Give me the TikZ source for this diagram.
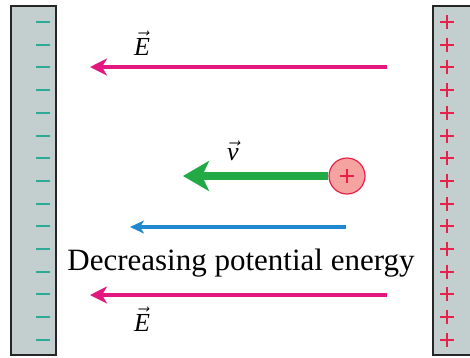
\RequirePackage{fix-cm}
\documentclass[tikz,border=0pt]{standalone}
\usepackage{fontspec}
\setmainfont{Liberation Serif}
\usepackage{amsmath}
\usetikzlibrary{arrows.meta}
\definecolor{platefill}{HTML}{C3CFCF}
\definecolor{fieldpink}{HTML}{E3177F}
\definecolor{minusteal}{HTML}{2BAA98}
\definecolor{plusred}{HTML}{E8204A}
\definecolor{velgreen}{HTML}{22AA47}
\definecolor{energyblue}{HTML}{1F88CF}
\definecolor{chargefill}{HTML}{F4A3A0}
\tikzstyle{plate}=[fill=platefill, draw=black!85, line width=1.3pt]
\tikzstyle{field}=[draw=fieldpink, line width=3.5pt, -{Stealth[length=17pt, width=17pt, inset=5pt]}]
\tikzstyle{energy}=[draw=energyblue, line width=3.3pt, -{Stealth[length=14pt, width=13pt, inset=4pt]}]
\tikzstyle{velocity}=[draw=velgreen, line width=8pt, -{Stealth[length=26pt, width=30pt, inset=7pt]}]
\tikzstyle{sign}=[line width=2pt, line cap=butt]
\tikzstyle{lbl}=[font=\fontsize{26}{28}\selectfont, inner sep=0pt, anchor=base]

\begin{document}
\begin{tikzpicture}[x=1pt, y=-1pt]
				\useasboundingbox (0,0) rectangle (470,357);

				% plates
				\draw[plate] (11,6) rectangle (56,355);
				\draw[plate] (433,6) rectangle (480,355);
				\foreach \k in {0,...,14} {
					\draw[sign, minusteal] (36,22+22.7*\k) -- (50,22+22.7*\k);
					\draw[sign, plusred] (440,22+22.7*\k) -- (454,22+22.7*\k);
					\draw[sign, plusred] (447,15+22.7*\k) -- (447,29+22.7*\k);
				}

				% field lines
				\coordinate (etr) at (387,67);
				\coordinate (etl) at (90,67);
				\coordinate (ebr) at (387,295);
				\coordinate (ebl) at (90,295);
				\draw[field] (etr) -- (etl);
				\draw[field] (ebr) -- (ebl);
				\node[lbl] (etop) at (142,55) {$\vec{\mathit{E}}$};
				\node[lbl] (ebot) at (142,331) {$\vec{\mathit{E}}$};

				% moving charge
				\node[circle, minimum size=36pt, inner sep=0pt, fill=chargefill, draw=plusred, line width=1.2pt] (charge) at (347,176) {};
				\draw[sign, plusred] (340,176) -- (354,176);
				\draw[sign, plusred] (347,169) -- (347,183);
				\coordinate (vtip) at (183,176);
				\draw[velocity] (charge.west) -- (vtip);
				\node[lbl] (vlab) at (233,160) {$\vec{\mathit{v}}$};

				% potential energy
				\coordinate (ur) at (346,227);
				\coordinate (ul) at (130,227);
				\draw[energy] (ur) -- (ul);
				\node[lbl, anchor=center, font=\fontsize{31}{33}\selectfont] (ulab) at (241,263) {Decreasing potential energy};
			\end{tikzpicture}
\end{document}
